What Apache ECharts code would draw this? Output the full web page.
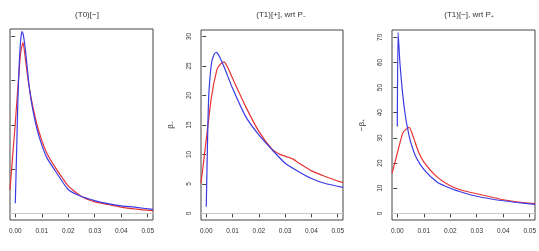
<!DOCTYPE html>
<html>
<head>
<meta charset="utf-8">
<script src="https://cdn.jsdelivr.net/npm/echarts@6/dist/echarts.min.js"></script>
<style>
  html, body { margin: 0; padding: 0; background: #fff; }
  #chart { width: 539px; height: 251px; }
</style>
</head>
<body>
<div id="chart"></div>
<script>
// panel titles and y-axis names
const titles = ['(T0)[\u2212]', '(T1)[+], wrt P\u208B', '(T1)[\u2212], wrt P\u208A']
const yNames = ['', '\u03B2\u208B', '\u2212\u03B2\u208A']

const xTicks = [0, 0.01, 0.02, 0.03, 0.04, 0.05]
const yTicks1 = [0, 10, 20, 30, 40]
const yTicks2 = [0, 5, 10, 15, 20, 25, 30]
const yTicks3 = [0, 10, 20, 30, 40, 50, 60, 70]

// panel 1
const p1BlueX = [0, 0.0005, 0.001, 0.0015, 0.002, 0.0025, 0.003, 0.004, 0.005, 0.006, 0.008, 0.01, 0.012, 0.015, 0.02, 0.025, 0.03, 0.035, 0.04, 0.045, 0.052]
const p1BlueY = [2.3, 14, 26, 34, 39, 41.1, 40.5, 36, 30, 25.5, 19.5, 15.5, 12.5, 9.7, 5.4, 3.8, 2.9, 2.2, 1.7, 1.4, 0.9]
const p1RedX = [-0.002, -0.001, 0, 0.001, 0.002, 0.0029, 0.004, 0.005, 0.006, 0.008, 0.01, 0.012, 0.015, 0.02, 0.025, 0.03, 0.035, 0.04, 0.045, 0.052]
const p1RedY = [5.3, 13, 20.4, 28.7, 36.2, 38.6, 34, 29.5, 26, 20.5, 16.5, 13.5, 10.5, 6.2, 3.8, 2.6, 2.0, 1.4, 1.0, 0.6]

// panel 2
const p2BlueX = [0, 0.0006, 0.001, 0.002, 0.003, 0.0038, 0.005, 0.007, 0.01, 0.015, 0.02, 0.025, 0.03, 0.035, 0.04, 0.045, 0.052]
const p2BlueY = [1.1, 14.7, 20.4, 25.5, 27, 27.3, 26.6, 24.6, 21.2, 16.4, 13.3, 10.8, 8.5, 7.1, 5.9, 5.1, 4.4]
const p2RedX = [-0.002, 0, 0.002, 0.004, 0.005, 0.0067, 0.008, 0.01, 0.015, 0.02, 0.025, 0.028, 0.03, 0.033, 0.035, 0.04, 0.045, 0.052]
const p2RedY = [5.1, 12.5, 19.8, 24.3, 25.1, 25.7, 24.9, 22.9, 18.1, 13.9, 10.9, 10.0, 9.7, 9.2, 8.6, 7.2, 6.3, 5.2]

// panel 3
const p3BlueX = [0, 0.0003, 0.001, 0.002, 0.003, 0.004, 0.005, 0.007, 0.01, 0.015, 0.02, 0.025, 0.03, 0.035, 0.04, 0.045, 0.052]
const p3BlueY = [34.5, 72, 59.7, 47.7, 39.1, 33.2, 28.5, 22.5, 17.5, 12.5, 10, 8.2, 6.8, 5.8, 5.0, 4.3, 3.6]
const p3RedX = [-0.002, 0, 0.002, 0.003, 0.0045, 0.006, 0.008, 0.01, 0.015, 0.02, 0.025, 0.03, 0.035, 0.04, 0.045, 0.052]
const p3RedY = [15.9, 23.9, 31.8, 33.2, 34.2, 30.5, 24.5, 20.5, 14.5, 11, 9, 7.8, 6.6, 5.4, 4.6, 3.9]

const pairs = (xs, ys) => xs.map((x, i) => [x, ys[i]])

const boxes = [
  { left: 10, right: 386, top: 29, bottom: 31 },
  { left: 201, right: 196, top: 30, bottom: 31 },
  { left: 392, right: 4, top: 30, bottom: 31 }
]
const yRanges = [[-1.5, 41.7], [-1.13, 31.1], [-2.65, 72.9]]
const yTickSets = [yTicks1, yTicks2, yTicks3]
const yLabelMargin = [13, 8, 8]
const titleX = [82, 276, 464]

const axisCommon = {
  axisLine: { show: false },
  axisTick: { show: true, length: 4, lineStyle: { color: '#444' } },
  axisLabel: { color: '#333', fontSize: 6.5, fontFamily: 'Liberation Sans' },
  splitLine: { show: false }
}

const chart = echarts.init(document.getElementById('chart'))
chart.setOption({
  animation: false,
  title: titles.map((t, i) => ({
    text: t, left: titleX[i], top: 6, textAlign: 'center',
    textStyle: { fontSize: 8, fontWeight: 'normal', color: '#333', fontFamily: 'Liberation Sans' }
  })),
  grid: boxes.map(b => ({
    ...b, show: true, borderColor: '#444', borderWidth: 1, backgroundColor: 'transparent',
    containLabel: false, outerBoundsMode: 'none'
  })),
  xAxis: boxes.map((b, i) => ({
    type: 'value', gridIndex: i, min: -0.002, max: 0.052,
    ...axisCommon,
    axisTick: { ...axisCommon.axisTick, customValues: xTicks },
    axisLabel: { ...axisCommon.axisLabel, customValues: xTicks, margin: 8, formatter: v => v.toFixed(2) }
  })),
  yAxis: boxes.map((b, i) => ({
    type: 'value', gridIndex: i, min: yRanges[i][0], max: yRanges[i][1],
    ...axisCommon,
    axisTick: { ...axisCommon.axisTick, customValues: yTickSets[i] },
    axisLabel: { ...axisCommon.axisLabel, customValues: yTickSets[i], rotate: 90, margin: yLabelMargin[i] },
    name: yNames[i], nameLocation: 'middle', nameRotate: 90, nameGap: 26,
    nameTextStyle: { fontSize: 8, color: '#333', fontFamily: 'Liberation Sans' }
  })),
  series: [
    [p1BlueX, p1BlueY, p1RedX, p1RedY],
    [p2BlueX, p2BlueY, p2RedX, p2RedY],
    [p3BlueX, p3BlueY, p3RedX, p3RedY]
  ].flatMap((d, i) => [
    {
      type: 'line', xAxisIndex: i, yAxisIndex: i, data: pairs(d[0], d[1]),
      symbol: 'none', smooth: 0.2, lineStyle: { color: '#3b3be6', width: 1.2 }, z: 3,
      markLine: {
        silent: true, symbol: 'none', label: { show: false },
        lineStyle: { color: '#c8c8c8', width: 1, type: 'solid' },
        data: [{ yAxis: 0 }]
      }
    },
    {
      type: 'line', xAxisIndex: i, yAxisIndex: i, data: pairs(d[2], d[3]),
      symbol: 'none', smooth: 0.2, lineStyle: { color: '#e83232', width: 1.2 }, z: 2
    }
  ])
})
</script>
</body>
</html>
